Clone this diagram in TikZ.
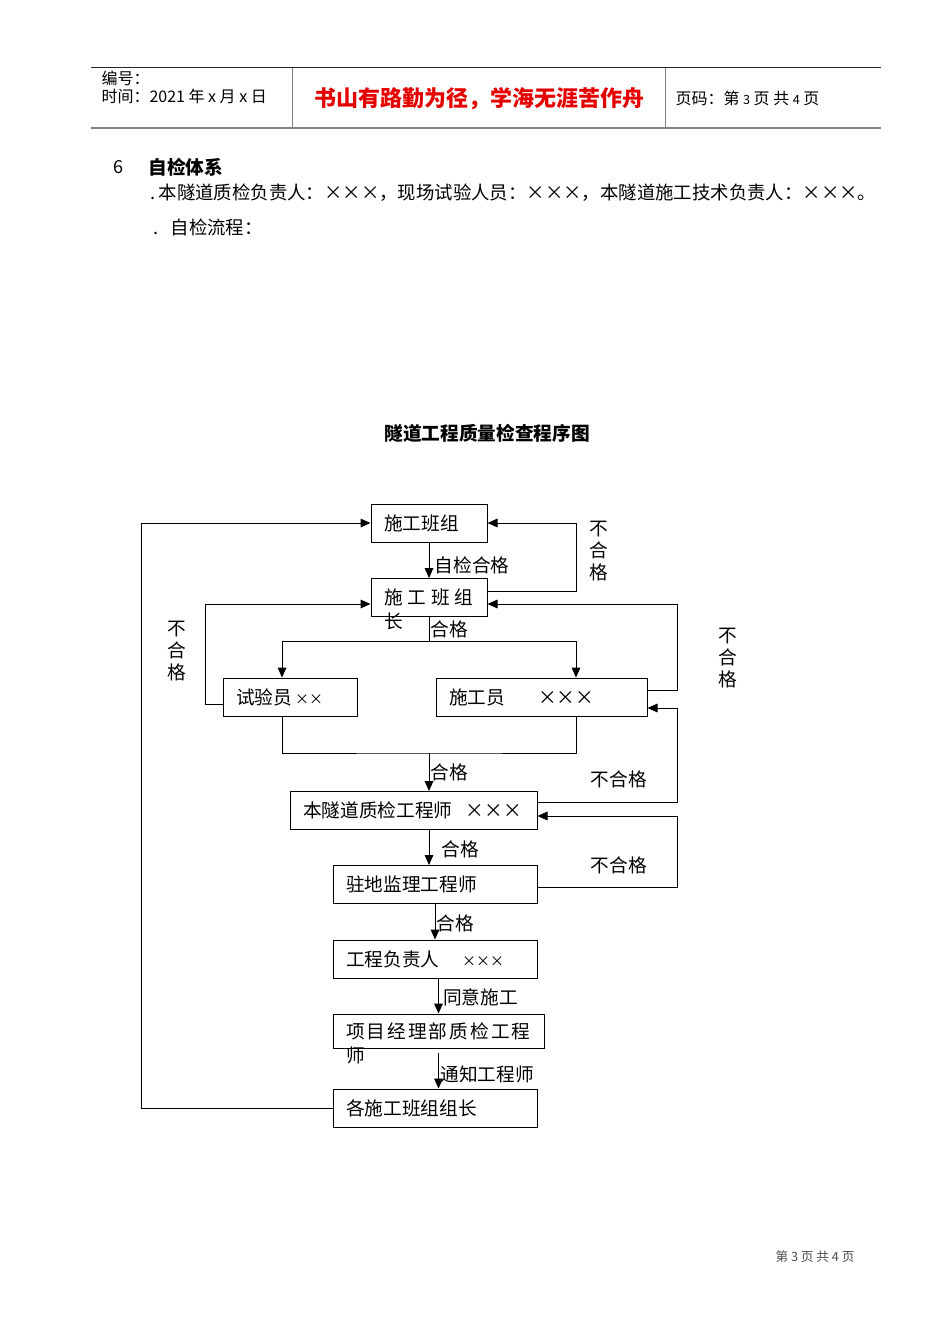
\documentclass[tikz,border=0pt]{standalone}
\usepackage{fontspec}
\setmainfont{Noto Sans CJK SC}
\usetikzlibrary{arrows.meta,calc}
\tikzset{every picture/.style={line width=0.75pt}}
\tikzset{
	box/.style={draw, inner xsep=9.75pt, inner ysep=0pt, minimum height=28.5pt, align=left, font=\fontsize{14pt}{17pt}\selectfont},
	lbl/.style={inner sep=1pt, font=\fontsize{14pt}{17pt}\selectfont},
	vlbl/.style={inner sep=0pt, align=center, font=\fontsize{14pt}{16.5pt}\selectfont},
	flow/.style={-{Triangle[length=7.5pt,width=6.5pt]}},
	hfont/.style={inner sep=0pt, font=\fontsize{12pt}{14pt}\selectfont},
	body/.style={inner sep=0pt, font=\fontsize{13.8pt}{16pt}\selectfont}
}
\newcommand{\bx}{\makebox[1em]{×}}
\newcommand{\sx}{{\fontsize{10.5pt}{12pt}\selectfont ×}}

\begin{document}
\begin{tikzpicture}[x=0.75pt,y=0.75pt,yscale=-1,xscale=1]
	\useasboundingbox (0,0) rectangle (950,1344);

	% header
	\draw [black!85] (91,68) -- (881,68) ;
	\draw [gray, line width=1.4pt] (91,128) -- (881,128) ;
	\draw [gray] (292,68) -- (292,128) ;
	\draw [gray] (665,68) -- (665,128) ;
	\node [hfont, anchor=west] (bh) at (101,78) {编号：};
	\node [hfont, anchor=west] (sj) at (101,96) {时间：2021 年 x 月 x 日};
	\node [inner sep=0pt, text=red!90!black, font=\fontsize{16.5pt}{19pt}\selectfont\bfseries] (motto) at (479,99) {书山有路勤为径，学海无涯苦作舟};
	\node [hfont, anchor=west] (ym) at (675,98) {页码：第 {\fontsize{9.5pt}{11pt}\selectfont 3} 页 共 {\fontsize{9.5pt}{11pt}\selectfont 4} 页};

	% text
	\node [anchor=west, inner sep=0pt, font=\fontsize{13.5pt}{16pt}\selectfont] (n6) at (113,167) {6};
	\node [anchor=west, inner sep=0pt, font=\fontsize{14pt}{16pt}\selectfont\bfseries] (zjtx) at (148,167) {自检体系};
	\node [body, anchor=west] (l1) at (150,193) {.\,本隧道质检负责人：\bx\bx\bx，现场试验人员：\bx\bx\bx，本隧道施工技术负责人：\bx\bx\bx。};
	\node [body, anchor=west] (l2) at (153,227) {.\hspace{9pt}自检流程：};
	\node [inner sep=0pt, font=\fontsize{14pt}{16pt}\selectfont\bfseries] (tt) at (487,433) {隧道工程质量检查程序图};

	% boxes
	\node [box, text width=67.5pt] (bz) at (429,523) {施工班组};
	\node [box, text width=67.5pt, label={[lbl, anchor=west, inner sep=0pt, xshift=9.75pt, yshift=-3pt]south west:长}] (bzz) at (429,597.5) {\mbox{\addfontfeatures{LetterSpace=26}施工班组}};
	\node [box, text width=81pt] (syy) at (290,697) {\mbox{试验员\,\sx\sx}};
	\node [box, text width=138.75pt] (sgy) at (541.5,697) {\mbox{施工员\hspace{25pt}\bx\bx\bx}};
	\node [box, text width=165.75pt] (zjgcs) at (413.5,810.5) {\mbox{本隧道质检工程师\hspace{10pt}\bx\bx\bx}};
	\node [box, text width=133.5pt] (jlgcs) at (435,884.5) {驻地监理工程师};
	\node [box, text width=133.5pt] (gcfzr) at (435,959) {\mbox{工程负责人\hspace{17pt}\sx\sx\sx}};
	\node [box, text width=138.75pt, minimum height=25.5pt, label={[lbl, anchor=west, inner sep=0pt, xshift=9.75pt, yshift=-5pt]south west:师}] (xmzj) at (438.5,1031) {\mbox{\addfontfeatures{LetterSpace=11}项目经理部质检工程}};
	\node [box, text width=133.5pt] (gbzz) at (435,1108) {各施工班组组长};

	% main flow
	\coordinate (fk) at (429,641);
	\coordinate (hb) at (429,753);
	\draw [flow] (bz) -- node [lbl, right=3pt, pos=0.65] {自检合格} (bzz);
	\draw (bzz) -- node [lbl, right=0pt, pos=0.5] {合格} (fk);
	\draw [flow] (fk) -| ($(syy.north)+(-8,0)$);
	\draw [flow] (fk) -| ($(sgy.north)+(34.5,0)$);
	\draw ($(syy.south)+(-8,0)$) |- (hb) -| ($(sgy.south)+(34.5,0)$);
	\draw [flow] (hb) -- node [lbl, right=0pt, pos=0.5] {合格} (hb |- zjgcs.north);
	\draw [flow] (zjgcs.south -| bz) -- node [lbl, right=8pt, pos=0.55] {合格} (jlgcs.north -| bz);
	\draw [flow] (jlgcs) -- node [lbl, right=0pt, pos=0.55] {合格} (gcfzr);
	\draw [flow] (gcfzr.south -| xmzj) -- node [lbl, right=2pt, pos=0.55] {同意施工} (xmzj);
	\draw [flow] ($(xmzj.south)+(0,4)$) -- node [lbl, right=0pt, pos=0.6] {通知工程师} (gbzz.north -| xmzj);

	% returns
	\draw [flow] ($(bzz.east)+(0,-6.5)$) -| node [vlbl, pos=0.79, right=9pt] {不\\合\\格} ($(bz.east)+(89,0)$) -- (bz.east);
	\draw [flow] ($(syy.west)+(0,7)$) -| node [vlbl, pos=0.765, left=14pt] {不\\合\\格} ($(bzz.west)+(-165,6.5)$) -- ($(bzz.west)+(0,6.5)$);
	\draw [flow] (gbzz.west) -| ($(bz.west)+(-229,0)$) -- (bz.west);
	\draw [flow] ($(sgy.east)+(0,-7)$) -| node [vlbl, pos=0.686, right=30pt] {不\\合\\格} ($(bzz.east)+(190,6.5)$) -- ($(bzz.east)+(0,6.5)$);
	\draw [flow] ($(zjgcs.east)+(0,-8.5)$) -| node [lbl, pos=0.29, anchor=south, inner ysep=10pt] {不合格} ($(sgy.east)+(30,11)$) -- ($(sgy.east)+(0,11)$);
	\draw [flow] ($(jlgcs.east)+(0,2.5)$) -| node [lbl, pos=0.29, anchor=south, inner ysep=9pt] {不合格} ($(zjgcs.east)+(140,5.5)$) -- ($(zjgcs.east)+(0,5.5)$);

	% footer
	\node [inner sep=0pt, text=black!70, font=\fontsize{9.5pt}{11pt}\selectfont] (ft) at (815,1257) {第 3 页 共 4 页};

\end{tikzpicture}
\end{document}
